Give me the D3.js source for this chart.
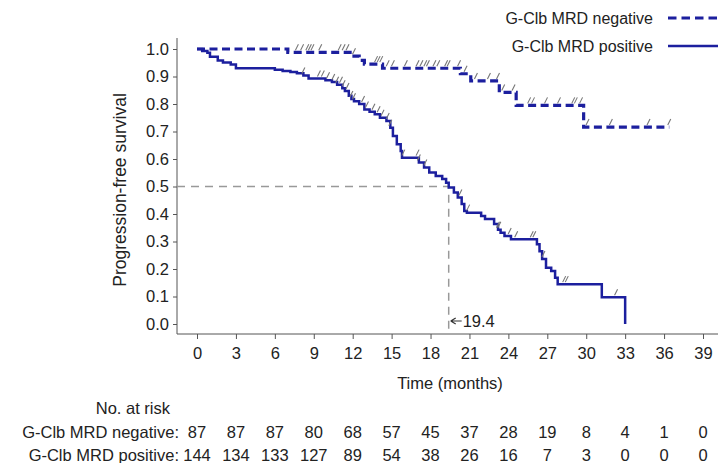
<!DOCTYPE html>
<html>
<head>
<meta charset="utf-8">
<script src="https://cdn.jsdelivr.net/npm/d3@7"></script>
<style>
  html, body { margin: 0; padding: 0; background: #fff; }
  svg { display: block; }
  text { font-family: "Liberation Sans", Arial, sans-serif; fill: #222; }
</style>
</head>
<body>
<svg id="chart" width="725" height="463"></svg>
<script>
// Time axis ticks (months) and survival ticks
const monthTicks = [0, 3, 6, 9, 12, 15, 18, 21, 24, 27, 30, 33, 36, 39];
const survTicks = [0, 0.1, 0.2, 0.3, 0.4, 0.5, 0.6, 0.7, 0.8, 0.9, 1.0];

// Kaplan-Meier steps: G-Clb MRD negative
const negTimes = [0, 7.0, 12.1, 12.5, 12.9, 14.3, 20.3, 21.1, 23.3, 24.6, 29.8, 36.4];
const negSurv  = [1.0, 0.988, 0.974, 0.959, 0.945, 0.93, 0.91, 0.884, 0.842, 0.795, 0.716, 0.716];
const negCensor = [7.7, 8.1, 8.5, 8.7, 8.9, 9.5, 11.0, 11.3, 11.6, 12.1, 13.8, 14.0, 14.2, 14.7, 15.1,
  16.1, 17.0, 17.3, 17.6, 17.8, 18.3, 18.6, 19.2, 19.4, 20.2, 20.7, 21.5, 22.5, 23.2, 23.6,
  24.4, 25.6, 25.9, 26.9, 27.9, 29.0, 29.2, 29.6, 30.1, 31.9, 34.8, 36.4];

// Kaplan-Meier steps: G-Clb MRD positive
const posTimes = [0, 0.4, 0.8, 1.0, 1.6, 2.0, 2.6, 3.0, 6.0, 6.6, 7.2, 7.7, 8.2, 8.6, 9.9, 10.4, 10.8,
  11.2, 11.4, 11.7, 11.9, 12.1, 12.5, 12.9, 13.3, 13.7, 14.1, 14.6, 14.9, 15.1, 15.4, 15.7, 15.8,
  17.1, 17.5, 17.9, 18.4, 18.9, 19.2, 19.4, 19.8, 20.1, 20.4, 20.6, 20.8, 21.9, 22.2, 22.9, 23.2,
  23.4, 23.7, 24.2, 26.2, 26.4, 26.6, 26.9, 27.3, 27.6, 27.8, 31.2, 33.0];
const posSurv = [1.0, 0.993, 0.986, 0.972, 0.958, 0.951, 0.944, 0.93, 0.925, 0.92, 0.916, 0.912, 0.904,
  0.893, 0.886, 0.88, 0.87, 0.857, 0.847, 0.83, 0.818, 0.81, 0.8, 0.78, 0.772, 0.763, 0.75, 0.738,
  0.714, 0.684, 0.654, 0.629, 0.605, 0.587, 0.569, 0.551, 0.538, 0.527, 0.514, 0.496, 0.478, 0.46,
  0.436, 0.411, 0.405, 0.393, 0.382, 0.364, 0.343, 0.332, 0.32, 0.308, 0.29, 0.265, 0.236, 0.205,
  0.193, 0.168, 0.145, 0.097, 0.0];
const posCensor = [8.2, 9.4, 9.7, 10.1, 10.5, 10.8, 11.1, 11.3, 11.6, 11.9, 12.1, 12.8, 13.1, 13.6,
  14.0, 14.3, 14.7, 14.9, 15.9, 17.0, 17.1, 17.6, 20.3, 20.9, 23.2, 23.3, 24.1, 24.6, 25.8, 26.0,
  26.7, 28.3, 28.5, 32.3];

// Numbers at risk
const riskNeg = [87, 87, 87, 80, 68, 57, 45, 37, 28, 19, 8, 4, 1, 0];
const riskPos = [144, 134, 133, 127, 89, 54, 38, 26, 16, 7, 3, 0, 0, 0];

const seriesNames = ["G-Clb MRD negative", "G-Clb MRD positive"];
const medianTime = 19.4;

const blue = "#1c1f9e";
const axisColor = "#555";
const gray = "#999";

const svg = d3.select("#chart");
const x = d3.scaleLinear().domain([0, 39]).range([197, 703]);
const y = d3.scaleLinear().domain([0, 1]).range([324, 49]);

const axisLeftX = 177, axisBottomY = 334;

// Axes
const yAxis = svg.append("g").attr("transform", `translate(${axisLeftX},0)`)
  .call(d3.axisLeft(y).tickValues(survTicks).tickFormat(d3.format(".1f")).tickSize(4).tickPadding(4));
yAxis.select(".domain").attr("d", `M0,38V${axisBottomY}`);
const xAxis = svg.append("g").attr("transform", `translate(0,${axisBottomY})`)
  .call(d3.axisBottom(x).tickValues(monthTicks).tickSize(5).tickPadding(8));
xAxis.select(".domain").attr("d", `M${axisLeftX},0H718`);
[yAxis, xAxis].forEach(g => {
  g.selectAll("path,line").attr("stroke", axisColor).attr("stroke-width", 1);
  g.selectAll("text").style("font-size", "16.5px").attr("fill", "#222")
    .style("font-family", '"Liberation Sans", Arial, sans-serif');
});

svg.append("text").attr("x", 450).attr("y", 389).attr("text-anchor", "middle")
  .style("font-size", "16.5px").text("Time (months)");
svg.append("text").attr("transform", "translate(126,190) rotate(-90)").attr("text-anchor", "middle")
  .style("font-size", "17.5px").text("Progression-free survival");

// Median reference lines
svg.append("path")
  .attr("d", `M${axisLeftX},${y(0.5)}H${x(medianTime)}V${axisBottomY - 5}`)
  .attr("fill", "none").attr("stroke", gray).attr("stroke-width", 1.5)
  .attr("stroke-dasharray", "8,6");
const ax = x(medianTime) + 2, ay = 321;
svg.append("path").attr("d", `M${ax},${ay}h11 M${ax},${ay}l5,-3 M${ax},${ay}l5,3`)
  .attr("stroke", "#333").attr("stroke-width", 1.2).attr("fill", "none");
svg.append("text").attr("x", ax + 12).attr("y", ay + 6).style("font-size", "16.5px")
  .text(medianTime.toFixed(1));

// Survival curves
const stepLine = d3.line().x(d => x(d[0])).y(d => y(d[1])).curve(d3.curveStepAfter);
const negData = negTimes.map((t, i) => [t, negSurv[i]]);
const posData = posTimes.map((t, i) => [t, posSurv[i]]);

function survAt(times, surv, t) {
  let s = surv[0];
  for (let i = 0; i < times.length; i++) if (times[i] <= t) s = surv[i];
  return s;
}

svg.append("path").attr("d", stepLine(posData)).attr("fill", "none")
  .attr("stroke", blue).attr("stroke-width", 2.5);
svg.append("path").attr("d", stepLine(negData)).attr("fill", "none")
  .attr("stroke", blue).attr("stroke-width", 3.2).attr("stroke-dasharray", "8,4.5");

// Censor marks
function drawCensor(times, surv, list) {
  svg.append("g").selectAll("line").data(list).join("line")
    .attr("x1", d => x(d) - 1.5).attr("y1", d => y(survAt(times, surv, d)) - 2)
    .attr("x2", d => x(d) + 1.5).attr("y2", d => y(survAt(times, surv, d)) - 8)
    .attr("stroke", "#777").attr("stroke-width", 1.1);
}
drawCensor(negTimes, negSurv, negCensor);
drawCensor(posTimes, posSurv, posCensor);

// Legend
const legend = svg.append("g");
[[18, "8.5,5"], [46, null]].forEach(([ly, dash], i) => {
  legend.append("text").attr("x", 653).attr("y", ly + 6).attr("text-anchor", "end")
    .style("font-size", "16px").text(seriesNames[i]);
  const l = legend.append("line").attr("x1", 668).attr("x2", 718).attr("y1", ly).attr("y2", ly)
    .attr("stroke", blue).attr("stroke-width", dash ? 3.2 : 2.5);
  if (dash) l.attr("stroke-dasharray", dash);
});

// Numbers-at-risk table
svg.append("text").attr("x", 170).attr("y", 414).attr("text-anchor", "end")
  .style("font-size", "16.5px").text("No. at risk");
[[riskNeg, 438], [riskPos, 461]].forEach(([row, ty], i) => {
  svg.append("text").attr("x", 179).attr("y", ty).attr("text-anchor", "end")
    .style("font-size", "16.5px").text(seriesNames[i] + ":");
  svg.append("g").selectAll("text").data(row).join("text")
    .attr("x", (d, j) => x(monthTicks[j])).attr("y", ty).attr("text-anchor", "middle")
    .style("font-size", "16.5px").text(d => d);
});
</script>
</body>
</html>
